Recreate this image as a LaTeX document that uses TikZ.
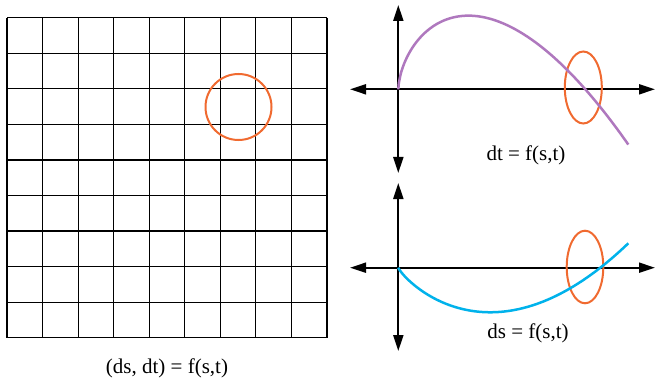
\documentclass[tikz,border=0pt]{standalone}
\usepackage{fontspec}
\setmainfont{Liberation Serif}
\usetikzlibrary{arrows.meta}
\definecolor{myorange}{RGB}{240,106,48}
\definecolor{mypurple}{RGB}{175,120,190}
\definecolor{mycyan}{RGB}{0,178,235}
\begin{document}
\begin{tikzpicture}[x=1pt,y=-1pt,
  axis/.style={line width=2pt,{Triangle[length=16pt,width=10pt]}-{Triangle[length=16pt,width=10pt]}},
  gridline/.style={line width=1.2pt},
  ring/.style={draw=myorange,line width=2pt},
  curvepurple/.style={draw=mypurple,line width=2.5pt},
  curvecyan/.style={draw=mycyan,line width=2.5pt},
  lbl/.style={font=\fontsize{21}{24}\selectfont,inner sep=0pt}]
\useasboundingbox (0,0) rectangle (655,382);
% grid
\foreach \i in {0,...,9} {
  \draw[gridline] ({7+\i*35.556},17.7) -- ({7+\i*35.556},337.7);
  \draw[gridline] (7,{17.7+\i*35.556}) -- (327,{17.7+\i*35.556});
}
\draw[ring] (238.5,107) circle (33);
\node[lbl] (lblgrid) at (167,368) {(ds, dt) = f(s,t)};
% top axes
\coordinate (tT) at (398.3,5);
\coordinate (tB) at (398.3,173);
\coordinate (tL) at (350,89.3);
\coordinate (tR) at (655,89.3);
\draw[axis] (tT) -- (tB);
\draw[axis] (tL) -- (tR);
\draw[ring] (583.3,87.5) ellipse [x radius=18.5, y radius=36];
\draw[curvepurple] (398.3,89.3) -- plot[domain=0.5:230,samples=120,smooth] ({398.3+\x},{89.3-0.0492*pow(\x,0.6)*(187-\x)});
\node[lbl] (lbldt) at (526,155) {dt = f(s,t)};
% bottom axes
\coordinate (bT) at (398.3,183);
\coordinate (bB) at (398.3,351);
\coordinate (bL) at (350,267.7);
\coordinate (bR) at (655,267.7);
\draw[axis] (bT) -- (bB);
\draw[axis] (bL) -- (bR);
\draw[ring] (585,267) ellipse [x radius=18.3, y radius=36.3];
\draw[curvecyan] (398.3,267.7) -- plot[domain=0.5:230,samples=120,smooth] ({398.3+\x},{267.7-0.00925*pow(\x,0.836)*(\x-202)});
\node[lbl] (lblds) at (528,333) {ds = f(s,t)};
\end{tikzpicture}
\end{document}
